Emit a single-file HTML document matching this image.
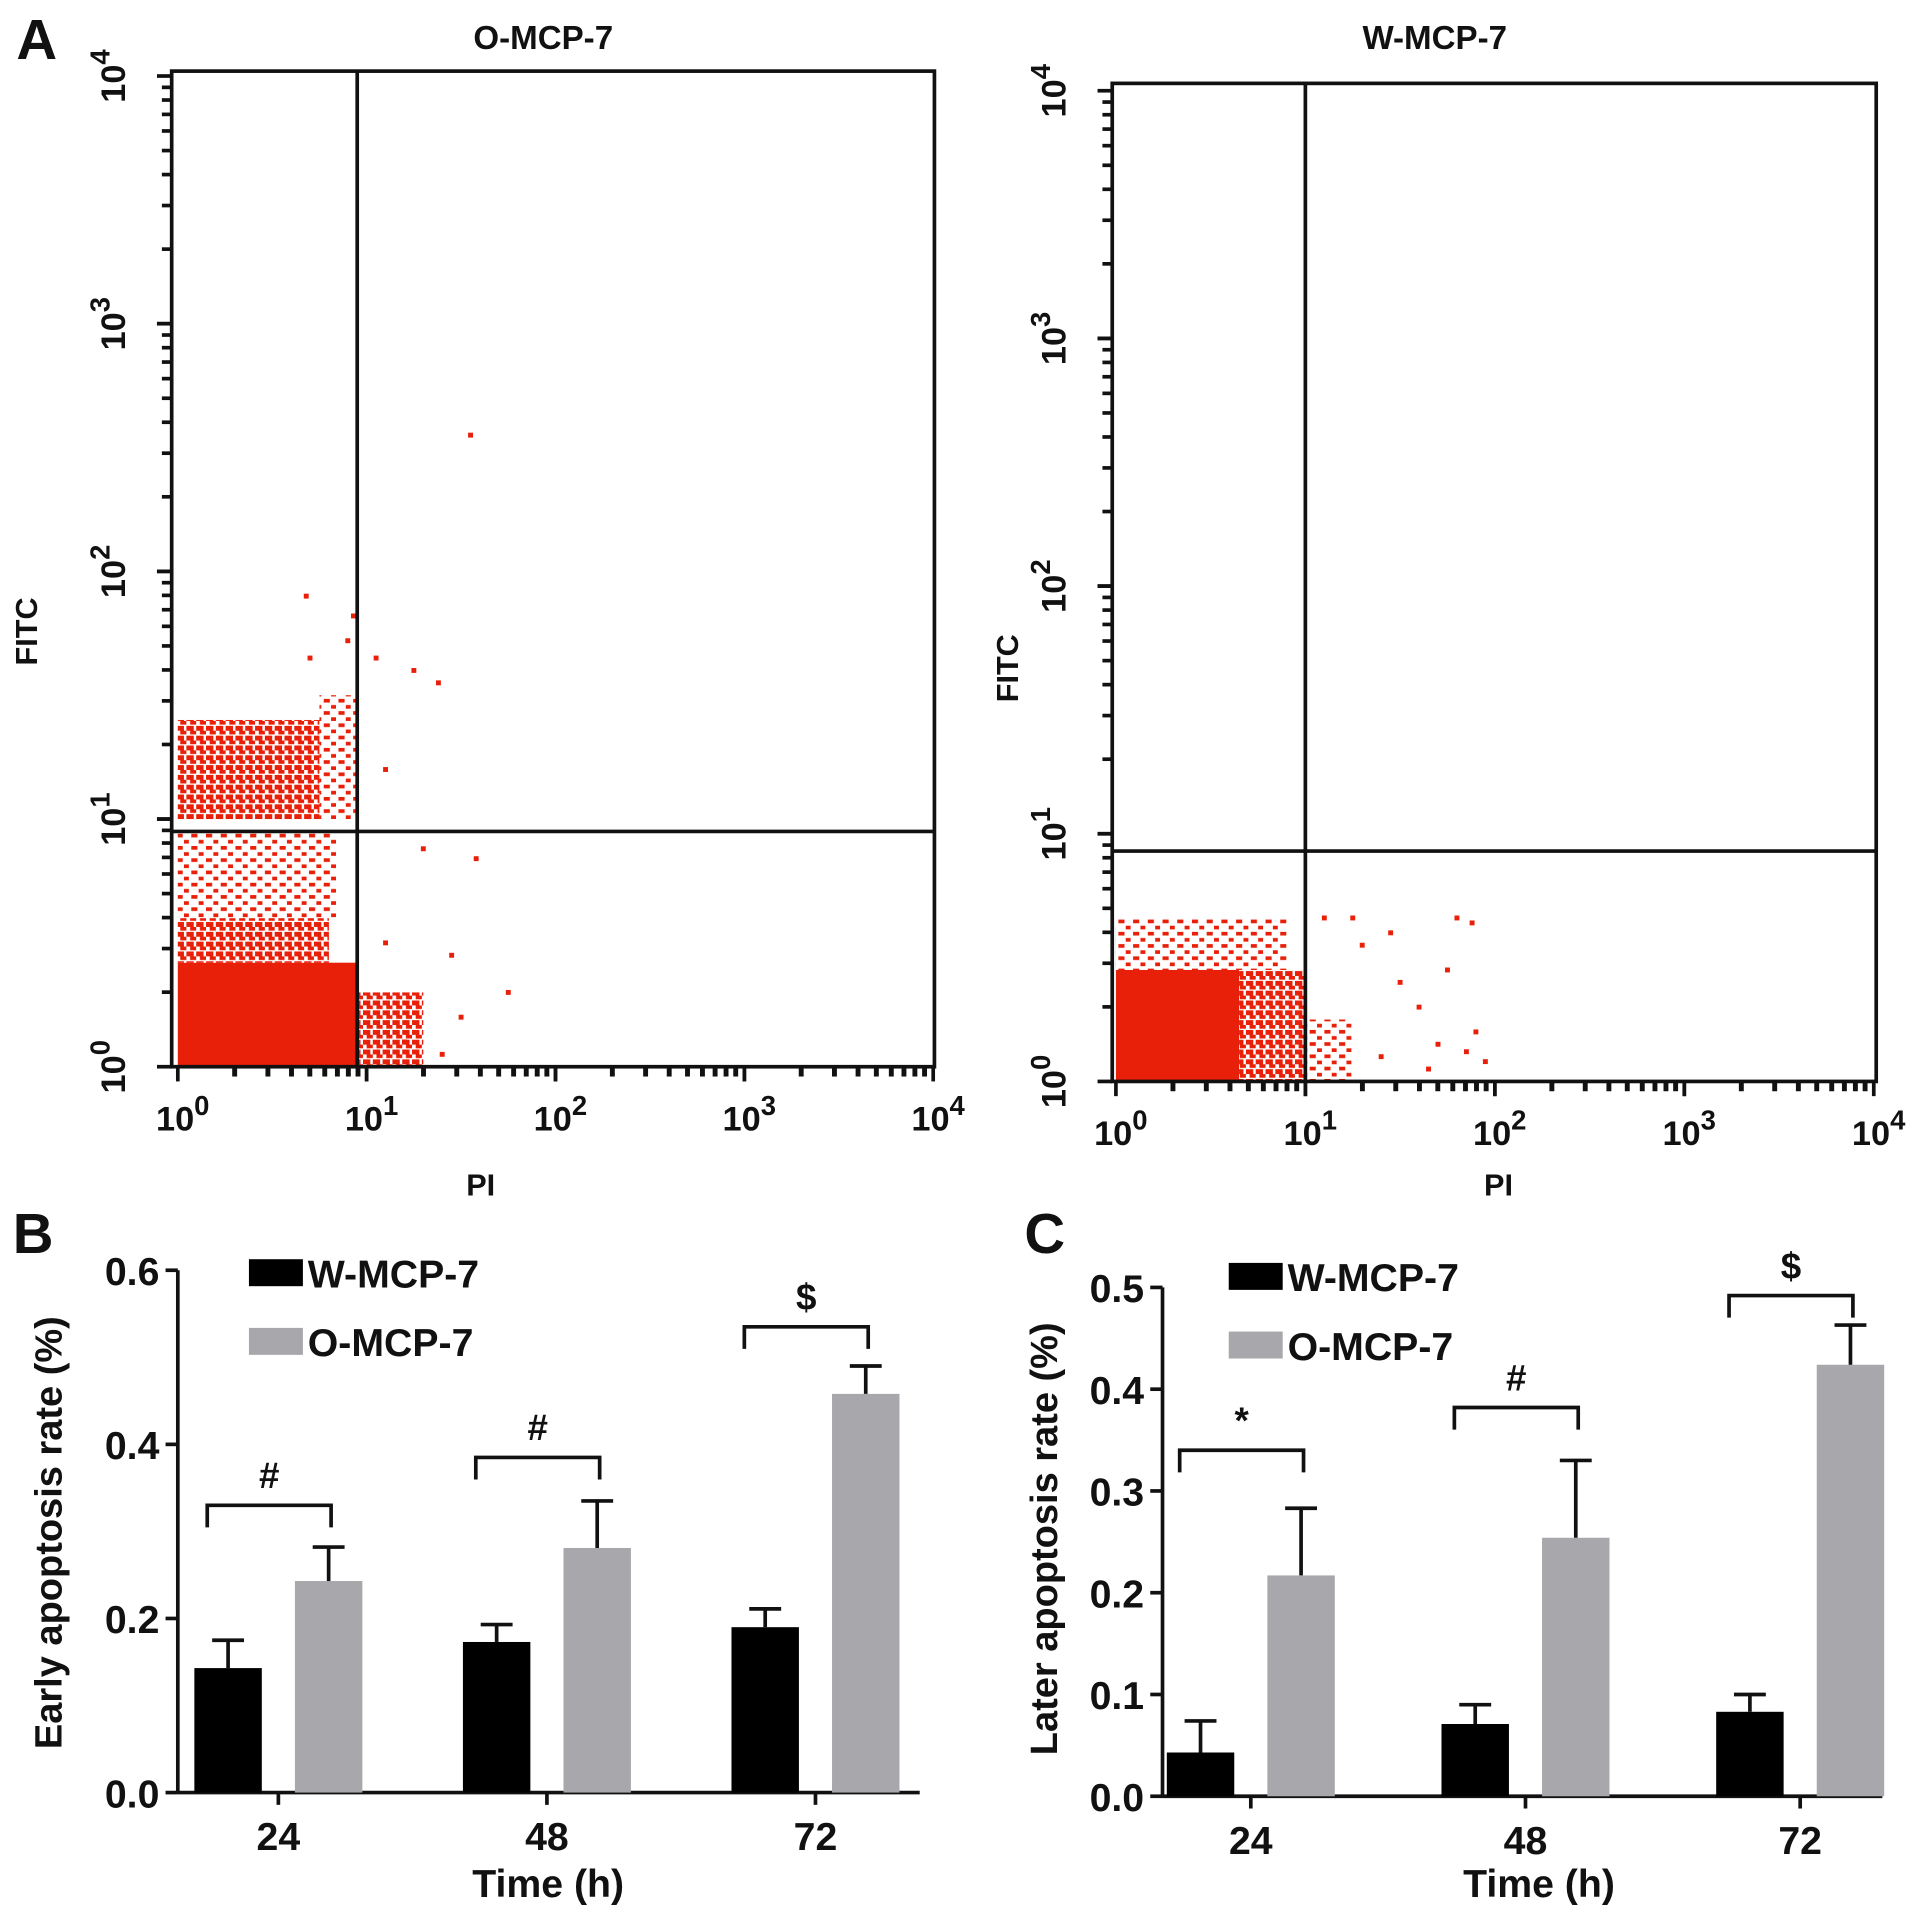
<!DOCTYPE html>
<html><head><meta charset="utf-8"><style>
html,body{margin:0;padding:0;background:#fff}
svg{display:block}
text{font-family:"Liberation Sans",Arial,sans-serif;font-weight:bold;fill:#111}
</style></head><body>
<svg id="fig" width="1913" height="1925" viewBox="0 0 1560 1570" preserveAspectRatio="none" xmlns="http://www.w3.org/2000/svg">
<defs>
<pattern id="med" width="8" height="8" patternUnits="userSpaceOnUse"><rect width="8" height="8" fill="#fff"/><rect width="6" height="4" fill="#e8200a"/><rect x="3" y="4" width="5" height="3" fill="#e8200a"/></pattern>
<pattern id="sparse" width="12" height="10" patternUnits="userSpaceOnUse"><rect width="12" height="10" fill="#fff"/><rect width="5" height="3" fill="#e8200a"/><rect x="6" y="5" width="4" height="3" fill="#e8200a"/></pattern>
</defs>
<g id="root"></g>
</svg>
<script>
// ---------- Data ----------
const timeCats = ["24","48","72"];
const earlyW = [0.143,0.173,0.19];
const earlyWErr = [0.032,0.020,0.021];
const earlyO = [0.243,0.281,0.458];
const earlyOErr = [0.039,0.054,0.032];
const earlyBracket = [0.33,0.385,0.535];
const laterW = [0.043,0.071,0.083];
const laterWErr = [0.031,0.019,0.017];
const laterO = [0.217,0.254,0.424];
const laterOErr = [0.066,0.076,0.039];
const laterBracket = [0.34,0.382,0.492];
const earlySig = ["#","#","$"];
const laterSig = ["*","#","$"];
const earlyTicks = ["0.0","0.2","0.4","0.6"];
const laterTicks = ["0.0","0.1","0.2","0.3","0.4","0.5"];
// flow: gates in log10 units; dense regions [x0,x1,y0,y1,kind]
const oGate = [0.95, 0.95];
const wGate = [1.0, 0.93];
const oRegions = [[0,0.95,0,0.42,"solid"],[0.95,1.3,0,0.3,"med"],[0,0.8,0.42,0.6,"med"],[0,0.85,0.6,0.95,"sparse"],[0,0.75,1.0,1.4,"med"],[0.75,0.95,1.0,1.5,"sparse"]];
const oPoints = [[1.55,2.55],[0.68,1.9],[0.93,1.82],[1.05,1.65],[1.25,1.6],[1.38,1.55],[1.1,1.2],[1.3,0.88],[1.58,0.84],[1.75,0.3],[1.5,0.2],[1.45,0.45],[1.2,0.1],[1.4,0.05],[0.9,1.72],[0.7,1.65],[1.1,0.5]];
const wRegions = [[0,0.65,0,0.62,"solid"],[0.65,1.0,0,0.45,"med"],[0,0.9,0.45,0.66,"sparse"],[1.0,1.25,0,0.25,"sparse"]];
const wPoints = [[1.25,0.66],[1.3,0.55],[1.45,0.6],[1.5,0.4],[1.6,0.3],[1.7,0.15],[1.75,0.45],[1.8,0.66],[1.88,0.64],[1.9,0.2],[1.95,0.08],[1.65,0.05],[1.1,0.66],[1.4,0.1],[1.85,0.12]];

const NS="http://www.w3.org/2000/svg";
const root=document.getElementById('root');
function mk(tag,attrs,parent){const e=document.createElementNS(NS,tag);for(const k in attrs)e.setAttribute(k,attrs[k]);(parent||root).appendChild(e);return e;}
function txt(s,x,y,size,parent,anchor,rot){const t=mk('text',{x:x,y:y,'font-size':size,'text-anchor':anchor||'middle'},parent);if(rot)t.setAttribute('transform',`rotate(${rot} ${x} ${y})`);t.textContent=s;return t;}
function sup(base,exp,x,y,size,parent,rot){const t=mk('text',{x:x,y:y,'font-size':size,'text-anchor':'middle'},parent);if(rot)t.setAttribute('transform',`rotate(${rot} ${x} ${y})`);t.textContent=base;const s=mk('tspan',{dy:-size*0.45,'font-size':size*0.8},t);s.textContent=exp;return t;}

// ---------- Flow panels ----------
function flow(cfg){
  const g=mk('g',{});
  
  
  const X=l=>cfg.x0+l*cfg.dx, Y=l=>cfg.y0-l*cfg.dy;
  cfg.regions.forEach(r=>{
    const fill=r[4]==="solid"?"#e8200a":(r[4]==="med"?"url(#med)":"url(#sparse)");
    const e=mk('rect',{x:X(r[0]),y:Y(r[3]),width:X(r[1])-X(r[0]),height:Y(r[2])-Y(r[3]),fill:fill},g);
    
    
  });
  cfg.points.forEach(p=>{
    const e=mk('rect',{x:X(p[0])-2,y:Y(p[1])-2,width:4,height:4,fill:'#e8200a'},g);
    
    
  });
  const fr=mk('rect',{x:cfg.fx0,y:cfg.fy0,width:cfg.fx1-cfg.fx0,height:cfg.y0-cfg.fy0,fill:'none',stroke:'#111','stroke-width':3},g);
  
  const v=mk('line',{x1:X(cfg.gate[0]),x2:X(cfg.gate[0]),y1:cfg.fy0,y2:cfg.y0,stroke:'#111','stroke-width':3},g);
  
  const h=mk('line',{x1:cfg.fx0,x2:cfg.fx1,y1:Y(cfg.gate[1]),y2:Y(cfg.gate[1]),stroke:'#111','stroke-width':3},g);
  
  for(let d=0;d<4;d++){for(let m=1;m<=10;m++){
    const l=d+Math.log10(m); const major=(m===1||m===10);
    mk('line',{x1:X(l),x2:X(l),y1:cfg.y0,y2:cfg.y0+(major?12:8),stroke:'#111','stroke-width':major?3:4},g);
    mk('line',{x1:cfg.fx0,x2:cfg.fx0-(major?12:8),y1:Y(l),y2:Y(l),stroke:'#111','stroke-width':3},g);
  }}
  for(let d=0;d<=4;d++){
    const t=sup('10',String(d),X(d)+4,cfg.y0+52,28,g);
    
    const u=sup('10',String(d),cfg.fx0-38,Y(d),28,g,-90);
    
  }
  const ti=txt(cfg.title,cfg.tx,40,27,g);
  const xl=txt('PI',cfg.pix,975,25,g);
  const yl=txt('FITC',cfg.fitx,cfg.fity,25,g,'middle',-90);
}
flow({name:'flow-plot-o-mcp7',x0:145,dx:154,y0:870,dy:202,fx0:140,fx1:762,fy0:58,gate:oGate,regions:oRegions,points:oPoints,title:'O-MCP-7',tx:443,pix:392,fitx:30,fity:515});
flow({name:'flow-plot-w-mcp7',x0:910,dx:154.5,y0:882,dy:202,fx0:907,fx1:1530,fy0:68,gate:wGate,regions:wRegions,points:wPoints,title:'W-MCP-7',tx:1170,pix:1222,fitx:830,fity:545});
{const a=txt('A',30,48,46);}

// ---------- Bar panels ----------
function bars(cfg){
  const g=mk('g',{});
  
  
  const Y=v=>cfg.y0-(v/cfg.max)*(cfg.y0-cfg.ytop);
  const n=cfg.ticks.length;
  cfg.ticks.forEach((t,i)=>{
    const v=cfg.max*i/(n-1);
    mk('line',{x1:cfg.ax,x2:cfg.ax-10,y1:Y(v),y2:Y(v),stroke:'#111','stroke-width':3},g);
    const e=txt(t,cfg.ax-15,Y(v)+12,32,g,'end');
    
  });
  mk('line',{x1:cfg.ax,x2:cfg.ax,y1:cfg.ytop,y2:cfg.y0+1,stroke:'#111','stroke-width':3},g);
  mk('line',{x1:cfg.ax,x2:cfg.axEnd,y1:cfg.y0,y2:cfg.y0,stroke:'#111','stroke-width':3},g);
  const bw=55, off=cfg.off;
  timeCats.forEach((c,i)=>{
    const cx=cfg.cx0+i*cfg.step;
    mk('line',{x1:cx,x2:cx,y1:cfg.y0,y2:cfg.y0+10,stroke:'#111','stroke-width':3},g);
    const tl=txt(c,cx,cfg.y0+47,32,g);
    [[cfg.w,cfg.wErr,'#000',cx-off,'bar-w-'+c],[cfg.o,cfg.oErr,'#a8a8ac',cx+off,'bar-o-'+c]].forEach(s=>{
      const v=s[0][i], er=s[1][i], bx=s[3];
      const b=mk('rect',{x:bx-bw/2,y:Y(v),width:bw,height:cfg.y0-Y(v),fill:s[2]},g);
      
      mk('line',{x1:bx,x2:bx,y1:Y(v),y2:Y(v+er),stroke:'#111','stroke-width':3},g);
      mk('line',{x1:bx-13,x2:bx+13,y1:Y(v+er),y2:Y(v+er),stroke:'#111','stroke-width':3},g);
    });
    const by=Y(cfg.bracket[i]);
    const l=cx-off-17, r=cx+off+2;
    const br=mk('path',{d:`M${l},${by+18} V${by} H${r} V${by+18}`,fill:'none',stroke:'#111','stroke-width':3},g);
    
    const st=txt(cfg.sig[i],(l+r)/2,by-14,30,g);
  });
  const lg=mk('g',{},g);
  [['W-MCP-7','#000',cfg.ly],['O-MCP-7','#a8a8ac',cfg.ly+56]].forEach(L=>{
    const e=mk('rect',{x:cfg.lx,y:L[2],width:44,height:22,fill:L[1]},lg);
    
    const t=txt(L[0],cfg.lx+48,L[2]+23,32,lg,'start');
  });
  const yt=txt(cfg.ylab,cfg.ylx,cfg.yly,31,g,'middle',-90);
  const xt=txt('Time (h)',cfg.xtx,1547,32,g);
  const pl=txt(cfg.label,cfg.plx,1022,46,g);
}
bars({name:'early-apoptosis-chart',ax:145,axEnd:750,y0:1462,ytop:1036,max:0.6,ticks:earlyTicks,cx0:227,step:219,off:41,w:earlyW,wErr:earlyWErr,o:earlyO,oErr:earlyOErr,sig:earlySig,bracket:earlyBracket,lx:203,ly:1027,ylab:'Early apoptosis rate (%)',ylx:50,yly:1250,xtx:447,label:'B',plx:27});
bars({name:'later-apoptosis-chart',ax:948,axEnd:1535,y0:1465,ytop:1050,max:0.5,ticks:laterTicks,cx0:1020,step:224,off:41,w:laterW,wErr:laterWErr,o:laterO,oErr:laterOErr,sig:laterSig,bracket:laterBracket,lx:1002,ly:1030,ylab:'Later apoptosis rate (%)',ylx:862,yly:1255,xtx:1255,label:'C',plx:852});
</script>
</body></html>
